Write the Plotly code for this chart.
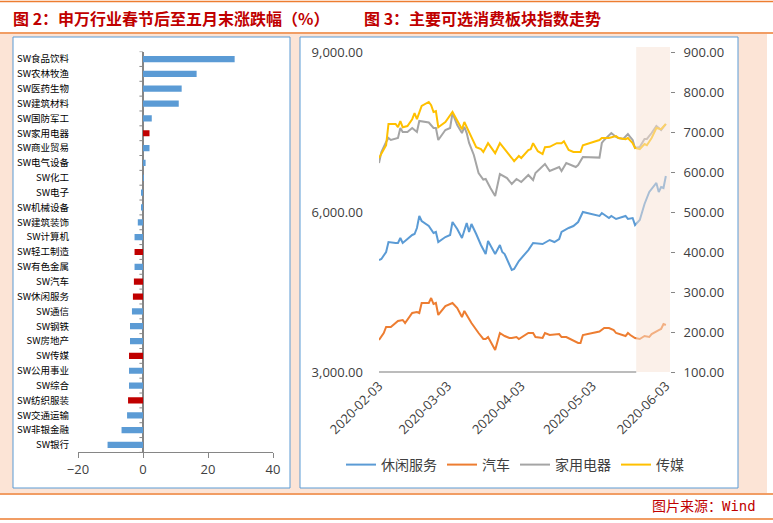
import plotly.graph_objects as go

# ---------------- data: left chart (申万行业涨跌幅) ----------------
categories = ["SW食品饮料", "SW农林牧渔", "SW医药生物", "SW建筑材料", "SW国防军工", "SW家用电器",
              "SW商业贸易", "SW电气设备", "SW化工", "SW电子", "SW机械设备", "SW建筑装饰",
              "SW计算机", "SW轻工制造", "SW有色金属", "SW汽车", "SW休闲服务", "SW通信",
              "SW钢铁", "SW房地产", "SW传媒", "SW公用事业", "SW综合", "SW纺织服装",
              "SW交通运输", "SW非银金融", "SW银行"]
bar_values = [28.2, 16.5, 11.9, 11.0, 2.7, 2.0, 2.0, 0.8, 0.1, -0.4, -0.4, -1.6,
              -2.6, -2.6, -2.6, -2.8, -3.1, -3.4, -4.0, -4.0, -4.3, -4.3, -4.3, -4.6,
              -4.9, -6.6, -10.9]
highlighted = ["SW家用电器", "SW轻工制造", "SW汽车", "SW休闲服务", "SW传媒", "SW纺织服装"]
bar_ticks = [-20, 0, 20, 40]

# ---------------- data: right chart (主要可选消费板块指数) ----------------
leisure_dates = ["2020-02-03", "2020-02-04", "2020-02-06", "2020-02-07", "2020-02-10", "2020-02-11",
                 "2020-02-12", "2020-02-13", "2020-02-15", "2020-02-17", "2020-02-18", "2020-02-19",
                 "2020-02-20", "2020-02-21", "2020-02-24", "2020-02-26", "2020-02-27", "2020-02-28",
                 "2020-03-02", "2020-03-04", "2020-03-05", "2020-03-07", "2020-03-09", "2020-03-11",
                 "2020-03-12", "2020-03-13", "2020-03-15", "2020-03-17", "2020-03-19", "2020-03-20",
                 "2020-03-23", "2020-03-25", "2020-03-26", "2020-03-27", "2020-03-30", "2020-03-31",
                 "2020-04-02", "2020-04-06", "2020-04-08", "2020-04-12", "2020-04-15", "2020-04-17",
                 "2020-04-19", "2020-04-20", "2020-04-23", "2020-04-25", "2020-04-27", "2020-04-29",
                 "2020-05-06", "2020-05-07", "2020-05-10", "2020-05-11", "2020-05-13", "2020-05-17",
                 "2020-05-18", "2020-05-20", "2020-05-21", "2020-05-23", "2020-05-25", "2020-05-27",
                 "2020-05-30", "2020-05-31", "2020-06-01", "2020-06-02", "2020-06-03"]
leisure_values = [5100, 5119, 5250, 5437, 5419, 5419, 5512, 5419, 5494, 5569, 5587, 5700,
                  5925, 5831, 5737, 5606, 5625, 5437, 5531, 5569, 5812, 5681, 5512, 5794,
                  5625, 5775, 5587, 5381, 5212, 5456, 5212, 5381, 5250, 5212, 4912, 4931,
                  5081, 5287, 5419, 5400, 5475, 5437, 5494, 5625, 5700, 5737, 5812, 6000,
                  5925, 5981, 5887, 5925, 5869, 5925, 5869, 5887, 5756, 5850, 6150, 6375,
                  6544, 6375, 6469, 6450, 6675]

auto_dates = ["2020-02-03", "2020-02-05", "2020-02-06", "2020-02-08", "2020-02-11", "2020-02-13",
              "2020-02-14", "2020-02-17", "2020-02-19", "2020-02-20", "2020-02-21", "2020-02-24",
              "2020-02-25", "2020-02-26", "2020-02-27", "2020-02-28", "2020-03-02", "2020-03-05",
              "2020-03-07", "2020-03-09", "2020-03-10", "2020-03-11", "2020-03-13", "2020-03-16",
              "2020-03-18", "2020-03-19", "2020-03-20", "2020-03-23", "2020-03-25", "2020-03-27",
              "2020-03-29", "2020-03-30", "2020-04-01", "2020-04-02", "2020-04-06", "2020-04-08",
              "2020-04-09", "2020-04-12", "2020-04-13", "2020-04-15", "2020-04-19", "2020-04-20",
              "2020-04-22", "2020-04-27", "2020-04-28", "2020-04-29", "2020-05-06", "2020-05-08",
              "2020-05-10", "2020-05-12", "2020-05-13", "2020-05-17", "2020-05-18", "2020-05-19",
              "2020-05-21", "2020-05-23", "2020-05-25", "2020-05-27", "2020-05-28", "2020-05-31",
              "2020-06-01", "2020-06-02", "2020-06-03"]
auto_values = [3600, 3731, 3844, 3844, 3956, 3975, 3919, 4106, 4125, 4106, 4294, 4294,
               4387, 4275, 4294, 4069, 4237, 4294, 4200, 4031, 4144, 4069, 3919, 3731,
               3619, 3619, 3656, 3412, 3731, 3675, 3637, 3637, 3656, 3619, 3731, 3731,
               3656, 3637, 3731, 3694, 3712, 3656, 3656, 3544, 3544, 3694, 3760, 3825,
               3825, 3787, 3731, 3675, 3731, 3694, 3637, 3619, 3675, 3656, 3712, 3787,
               3806, 3900, 3881]

appliance_dates = ["2020-02-03", "2020-02-04", "2020-02-06", "2020-02-07", "2020-02-08", "2020-02-11",
                   "2020-02-12", "2020-02-13", "2020-02-15", "2020-02-17", "2020-02-19", "2020-02-20",
                   "2020-02-24", "2020-02-26", "2020-02-27", "2020-02-28", "2020-03-02", "2020-03-04",
                   "2020-03-05", "2020-03-07", "2020-03-09", "2020-03-10", "2020-03-11", "2020-03-12",
                   "2020-03-14", "2020-03-16", "2020-03-18", "2020-03-19", "2020-03-21", "2020-03-23",
                   "2020-03-25", "2020-03-28", "2020-03-30", "2020-04-01", "2020-04-03", "2020-04-06",
                   "2020-04-08", "2020-04-09", "2020-04-13", "2020-04-15", "2020-04-19", "2020-04-20",
                   "2020-04-22", "2020-04-26", "2020-04-27", "2020-04-29", "2020-05-06", "2020-05-07",
                   "2020-05-08", "2020-05-11", "2020-05-13", "2020-05-14", "2020-05-16", "2020-05-18",
                   "2020-05-19", "2020-05-20", "2020-05-21", "2020-05-23", "2020-05-25", "2020-05-26",
                   "2020-05-28", "2020-05-30", "2020-06-01", "2020-06-03"]
appliance_values = [6919, 7125, 7312, 7387, 7350, 7387, 7575, 7500, 7500, 7575, 7500, 7706,
                    7678, 7575, 7575, 7350, 7537, 7575, 7856, 7631, 7481, 7594, 7481, 7294,
                    7069, 6731, 6609, 6619, 6450, 6300, 6712, 6637, 6525, 6619, 6562, 6694,
                    6600, 6731, 6900, 6769, 6844, 6769, 6919, 6844, 6881, 7031, 7020, 7294,
                    7350, 7481, 7406, 7387, 7369, 7462, 7406, 7350, 7200, 7219, 7369, 7369,
                    7481, 7612, 7537, 7650]

media_dates = ["2020-02-03", "2020-02-06", "2020-02-07", "2020-02-10", "2020-02-11", "2020-02-12",
               "2020-02-13", "2020-02-15", "2020-02-17", "2020-02-18", "2020-02-19", "2020-02-21",
               "2020-02-24", "2020-02-25", "2020-02-26", "2020-02-27", "2020-02-28", "2020-03-02",
               "2020-03-05", "2020-03-07", "2020-03-09", "2020-03-10", "2020-03-12", "2020-03-13",
               "2020-03-15", "2020-03-17", "2020-03-18", "2020-03-20", "2020-03-23", "2020-03-25",
               "2020-03-30", "2020-03-31", "2020-04-02", "2020-04-03", "2020-04-06", "2020-04-07",
               "2020-04-08", "2020-04-10", "2020-04-12", "2020-04-13", "2020-04-15", "2020-04-18",
               "2020-04-20", "2020-04-21", "2020-04-23", "2020-04-25", "2020-04-28", "2020-04-29",
               "2020-05-06", "2020-05-07", "2020-05-10", "2020-05-13", "2020-05-14", "2020-05-17",
               "2020-05-18", "2020-05-20", "2020-05-21", "2020-05-23", "2020-05-25", "2020-05-26",
               "2020-05-28", "2020-05-30", "2020-06-01", "2020-06-03"]
media_values = [635, 667, 720, 720, 712, 727, 712, 715, 732, 747, 732, 765,
                775, 767, 750, 752, 712, 725, 750, 730, 707, 725, 697, 687,
                662, 657, 650, 672, 647, 672, 635, 627, 640, 635, 655, 657,
                672, 652, 645, 662, 663, 672, 672, 677, 655, 650, 650, 667,
                680, 685, 685, 690, 685, 682, 685, 672, 660, 657, 670, 667,
                685, 710, 707, 720]

date_ticks = ["2020-02-03", "2020-03-03", "2020-04-03", "2020-05-03", "2020-06-03"]
date_range = ["2020-02-03", "2020-06-04 18:00"]
highlight_start = "2020-05-21 12:00"
left_ticks = [3000, 6000, 9000]
right_range = [100, 900]

# ---------------- styling ----------------
W, H = 773, 523
BLUE, ORANGE, GRAY, GOLD = "#5B9BD5", "#ED7D31", "#A5A5A5", "#FFC000"
RED = "#C00000"
AXIS_GRAY = "#868686"
TEXT = "#404040"


def px(x):
    return x / W


def py(y):
    return 1 - y / H


fig = go.Figure()

bar_colors = [RED if c in highlighted else BLUE for c in categories]
fig.add_trace(go.Bar(x=bar_values, y=categories, orientation="h", marker_color=bar_colors,
                     marker_line_width=0, width=0.42, xaxis="x", yaxis="y", showlegend=False,
                     hoverinfo="x+y"))

series = [("休闲服务", leisure_dates, leisure_values, BLUE, "y2"),
          ("汽车", auto_dates, auto_values, ORANGE, "y2"),
          ("家用电器", appliance_dates, appliance_values, GRAY, "y2"),
          ("传媒", media_dates, media_values, GOLD, "y3")]
for name, d, v, col, ax in series:
    fig.add_trace(go.Scatter(x=d, y=v, mode="lines", name=name, line=dict(color=col, width=2),
                             xaxis="x2", yaxis=ax))

shapes = []
# page decoration
shapes.append(dict(type="rect", xref="paper", yref="paper", x0=0, x1=px(767), y0=py(493), y1=py(34),
                   fillcolor="#FCE4D6", line_width=0, layer="below"))
for x0, x1 in [(13, 290), (300, 738)]:
    shapes.append(dict(type="rect", xref="paper", yref="paper", x0=px(x0), x1=px(x1), y0=py(488), y1=py(37),
                       fillcolor="white", line=dict(color=BLUE, width=1), layer="below"))
for yy in [1.5, 33, 494, 519]:
    shapes.append(dict(type="line", xref="paper", yref="paper", x0=0, x1=1, y0=py(yy), y1=py(yy),
                       line=dict(color=ORANGE, width=1.5)))
# category boundary ticks on the zero line
for i in range(len(categories) + 1):
    shapes.append(dict(type="line", xref="x", yref="y", x0=-1.1, x1=0, y0=i - 0.5, y1=i - 0.5,
                       line=dict(color=AXIS_GRAY, width=1)))
# highlighted period on the right chart
shapes.append(dict(type="rect", xref="x2", yref="y2 domain", x0=highlight_start, x1=date_range[1],
                   y0=0, y1=1.016, fillcolor="rgba(248,226,212,0.5)", line_width=0, layer="above"))
shapes.append(dict(type="line", xref="x2", yref="y2 domain", x0=date_range[0], x1=highlight_start,
                   y0=0, y1=0, line=dict(color="#A6A6A6", width=1.5)))

annotations = [
    dict(text="图 2：申万行业春节后至五月末涨跌幅（%）", xref="paper", yref="paper", x=px(11), y=py(18),
         xanchor="left", yanchor="middle", showarrow=False,
         font=dict(size=16, color=RED, family="Noto Sans CJK SC", weight="bold")),
    dict(text="图 3：主要可选消费板块指数走势", xref="paper", yref="paper", x=px(362), y=py(18),
         xanchor="left", yanchor="middle", showarrow=False,
         font=dict(size=16, color=RED, family="Noto Sans CJK SC", weight="bold")),
    dict(text="图片来源：Wind", xref="paper", yref="paper", x=px(758), y=py(506),
         xanchor="right", yanchor="middle", showarrow=False,
         font=dict(size=14, color=RED, family="DejaVu Sans Mono, Noto Sans CJK SC")),
]

fig.update_layout(
    width=W, height=H, margin=dict(l=0, r=0, t=0, b=0, pad=0, autoexpand=False),
    paper_bgcolor="white", plot_bgcolor="rgba(0,0,0,0)",
    font=dict(family="Open Sans, Noto Sans CJK SC", size=13, color=TEXT),
    bargap=0.58,
    shapes=shapes, annotations=annotations,
    xaxis=dict(domain=[px(78), px(273)], range=[-20, 40], tickvals=bar_ticks, ticks="outside",
               ticklen=5, tickcolor=AXIS_GRAY, showline=True, linecolor=AXIS_GRAY, linewidth=1,
               showgrid=False, zeroline=True, zerolinecolor=AXIS_GRAY, zerolinewidth=1.5,
               tickfont=dict(size=13, color=TEXT), anchor="y", automargin=False),
    yaxis=dict(domain=[py(452.4), py(51.6)], type="category", categoryorder="array",
               categoryarray=categories, range=[len(categories) - 0.5, -0.5], showgrid=False,
               ticks="", showline=False, zeroline=False, ticklabelstandoff=8,
               tickfont=dict(size=9.5, color="black", family="Noto Sans CJK SC"), anchor="x",
               automargin=False),
    xaxis2=dict(domain=[px(379), px(670)], type="date", range=date_range, tickvals=date_ticks,
                ticktext=date_ticks, tickangle=-45, showline=False, showgrid=False, ticks="",
                zeroline=False, tickfont=dict(size=13, color=TEXT), anchor="y2",
                ticklabelstandoff=3, automargin=False),
    yaxis2=dict(domain=[py(372), py(52)], range=[left_ticks[0], left_ticks[-1]], tickvals=left_ticks,
                tickformat=",.2f", showgrid=False, showline=False, zeroline=False, ticks="",
                ticklabelstandoff=15, tickfont=dict(size=13, color=TEXT), anchor="x2",
                automargin=False),
    yaxis3=dict(overlaying="y2", side="right", range=right_range, dtick=100, tickformat=".2f",
                ticks="outside", ticklen=4, tickcolor=AXIS_GRAY, showgrid=False, showline=False,
                zeroline=False, tickfont=dict(size=13, color=TEXT), anchor="x2", ticklabelstandoff=6,
                automargin=False),
    legend=dict(orientation="h", x=px(515), xanchor="center", y=py(465), yanchor="middle",
                font=dict(size=14, color=TEXT), bgcolor="rgba(0,0,0,0)", itemwidth=30,
                tracegroupgap=0),
)

fig.write_html("out.html", post_script="document.body.style.margin='0px';",
               config={"displayModeBar": False})
